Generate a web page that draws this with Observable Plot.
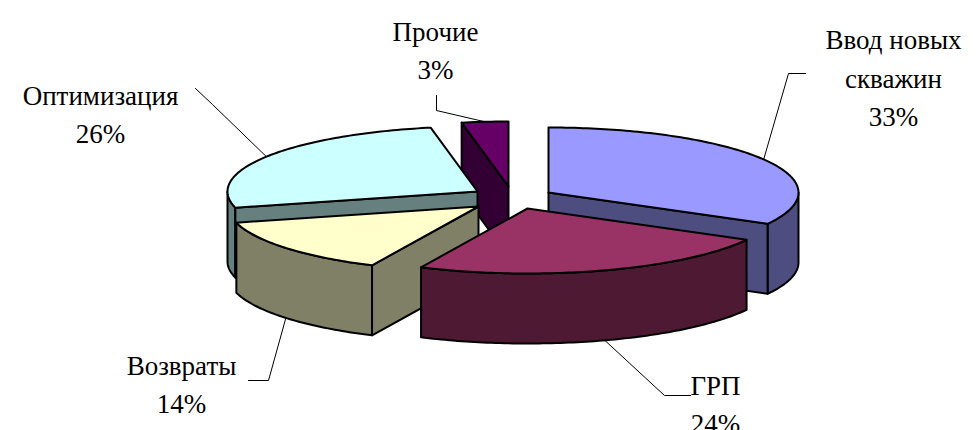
<!DOCTYPE html>
<html>
<head>
<meta charset="utf-8">
<script src="https://cdn.jsdelivr.net/npm/d3@7"></script>
<script src="https://cdn.jsdelivr.net/npm/@observablehq/plot@0.6"></script>
<style>html,body{margin:0;padding:0;background:#fff}svg{display:block}</style>
</head>
<body>
<div id="chart"></div>
<script>
const categories = ["Ввод новых\nскважин", "ГРП", "Возвраты", "Оптимизация", "Прочие"];
const values = [33, 24, 14, 26, 3];
const topColors = ["#9999ff", "#993366", "#ffffcc", "#ccffff", "#660066"];
const sideColors = ["#4d4d80", "#4d1933", "#808066", "#668080", "#330033"];

// layout of the exploded, tilted pie
const rx = 250, ry = 65, depth = 70;
const centers = [[548, 192], [527, 208], [478, 206], [477, 191], [508, 186]];
const labelAt = [[893, 75], [715, 401], [181, 381], [100, 111], [435, 47]];
const elbows = [
  [[788, 73], [805, 73]],
  [[664, 395], [690, 395]],
  [[268, 380], [248, 380]],
  [[212, 104], [195, 88]],
  [[436, 110], [436, 95]]
];
const drawOrder = [4, 0, 3, 2, 1];

const total = d3.sum(values);
const cum = d3.cumsum(values);
const slices = values.map((v, i) => ({
  i, a0: (i ? cum[i - 1] : 0) / total * 360, a1: cum[i] / total * 360, c: centers[i]
}));
const pt = (s, a, dz = 0) => {
  const r = a * Math.PI / 180;
  return {x: s.c[0] + rx * Math.sin(r), y: s.c[1] - ry * Math.cos(r) + dz};
};
const arc = (s, a0, a1, dz = 0) => {
  const n = Math.max(2, Math.ceil(Math.abs(a1 - a0)));
  return d3.range(n + 1).map(k => pt(s, a0 + (a1 - a0) * k / n, dz));
};
const apex = (s, dz = 0) => ({x: s.c[0], y: s.c[1] + dz});

const faces = [];
for (const i of drawOrder) {
  const s = slices[i];
  const lo = Math.max(s.a0, 90), hi = Math.min(s.a1, 270);
  if (hi > lo) faces.push({pts: [...arc(s, lo, hi), ...arc(s, hi, lo, depth)], fill: sideColors[i]});
  if (Math.sin(s.a1 * Math.PI / 180) > 0)
    faces.push({pts: [apex(s), pt(s, s.a1), pt(s, s.a1, depth), apex(s, depth)], fill: sideColors[i]});
  if (Math.sin(s.a0 * Math.PI / 180) < 0)
    faces.push({pts: [apex(s), pt(s, s.a0), pt(s, s.a0, depth), apex(s, depth)], fill: sideColors[i]});
  faces.push({pts: [apex(s), ...arc(s, s.a0, s.a1)], fill: topColors[i]});
}

const leaders = slices.map(s => {
  const mid = (s.a0 + s.a1) / 2;
  const front = mid > 90 && mid < 270;
  return [pt(s, mid, front ? depth : 0), ...elbows[s.i].map(([x, y]) => ({x, y}))];
});

const labels = slices.map(s => ({
  x: labelAt[s.i][0], y: labelAt[s.i][1],
  text: `${categories[s.i]}\n${values[s.i]}%`
}));

const chart = Plot.plot({
  width: 977, height: 430,
  margin: 0,
  style: {background: "#fff"},
  x: {domain: [0, 977], range: [0, 977], axis: null},
  y: {domain: [0, 430], range: [0, 430], axis: null},
  marks: [
    ...leaders.map(l => Plot.line(l, {x: "x", y: "y", stroke: "#000", strokeWidth: 1})),
    ...faces.map(f => Plot.line(f.pts, {
      x: "x", y: "y", curve: "linear-closed", fill: f.fill, stroke: "#000", strokeWidth: 2
    })),
    Plot.text(labels, {
      x: "x", y: "y", text: "text", fontSize: 27, lineHeight: 1.42,
      fontFamily: "Liberation Serif", fill: "#000", textAnchor: "middle", lineAnchor: "middle"
    })
  ]
});
document.getElementById("chart").append(chart);
</script>
</body>
</html>
